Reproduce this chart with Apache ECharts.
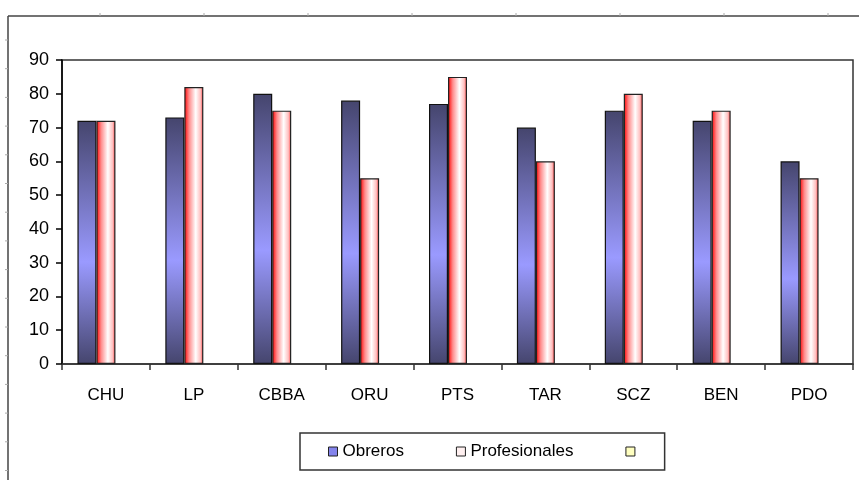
<!DOCTYPE html>
<html>
<head>
<meta charset="utf-8">
<script src="https://cdn.jsdelivr.net/npm/echarts@6/dist/echarts.min.js"></script>
<style>
  html, body { margin: 0; padding: 0; background: #fff; }
  #main { width: 859px; height: 480px; }
</style>
</head>
<body>
<div id="main"></div>
<script>
// datos del grafico
var categorias = ['CHU', 'LP', 'CBBA', 'ORU', 'PTS', 'TAR', 'SCZ', 'BEN', 'PDO'];
var obreros = [72, 73, 80, 78, 77, 70, 75, 72, 60];
var profesionales = [72, 82, 75, 55, 85, 60, 80, 75, 55];
var yMin = 0;
var yMax = 90;
var yPaso = 10;

var FONT = '"Liberation Sans", Arial, sans-serif';

var chart = echarts.init(document.getElementById('main'));

// marco exterior con marcas pequeñas
var marco = [
  { type: 'line', shape: { x1: 8, y1: 16, x2: 859, y2: 16 }, style: { stroke: '#444', lineWidth: 1.5 } },
  { type: 'line', shape: { x1: 8, y1: 16, x2: 8, y2: 480 }, style: { stroke: '#444', lineWidth: 1.5 } }
];
for (var tx = 100; tx < 859; tx += 104) {
  marco.push({ type: 'line', shape: { x1: tx, y1: 13, x2: tx, y2: 16 }, style: { stroke: '#aaa', lineWidth: 1 } });
}
for (var ty = 40; ty < 480; ty += 28.7) {
  marco.push({ type: 'line', shape: { x1: 5, y1: ty, x2: 8, y2: ty }, style: { stroke: '#aaa', lineWidth: 1 } });
}

var option = {
  animation: false,
  backgroundColor: '#fff',
  textStyle: { fontFamily: FONT },
  graphic: marco,
  grid: {
    left: 62,
    right: 6,
    top: 60,
    bottom: 116,
    show: true,
    borderColor: '#333',
    borderWidth: 1.5,
    backgroundColor: 'transparent'
  },
  legend: {
    left: 300,
    top: 433,
    padding: [10, 20, 10, 28],
    itemGap: 52,
    itemWidth: 9,
    itemHeight: 9,
    icon: 'rect',
    borderColor: '#333',
    borderWidth: 1.5,
    textStyle: { fontSize: 17, color: '#000', fontFamily: FONT },
    data: [
      { name: 'Obreros', itemStyle: { color: '#8484ec', borderColor: '#222', borderWidth: 1 } },
      { name: 'Profesionales', itemStyle: { color: '#fff0f0', borderColor: '#222', borderWidth: 1 } },
      { name: ' ', itemStyle: { color: '#ffffc0', borderColor: '#222', borderWidth: 1 } }
    ]
  },
  xAxis: {
    type: 'category',
    data: categorias,
    boundaryGap: true,
    axisLine: { lineStyle: { color: '#333', width: 1.5 } },
    axisTick: { show: true, length: 6, lineStyle: { color: '#333', width: 1.5 } },
    axisLabel: { fontSize: 17, color: '#000', margin: 23, fontFamily: FONT },
    splitLine: { show: false }
  },
  yAxis: {
    type: 'value',
    min: yMin,
    max: yMax,
    interval: yPaso,
    axisLine: { show: true, lineStyle: { color: '#000', width: 1.5 } },
    axisTick: { show: true, length: 6, lineStyle: { color: '#000', width: 1.5 } },
    axisLabel: { fontSize: 18, color: '#000', margin: 13, fontFamily: FONT },
    splitLine: { show: false }
  },
  series: [
    {
      name: 'Obreros',
      type: 'bar',
      barWidth: 19,
      barGap: '0%',
      data: obreros,
      itemStyle: {
        borderColor: '#111',
        borderWidth: 1.2,
        color: {
          type: 'linear', x: 0, y: 0, x2: 0, y2: 1,
          colorStops: [
            { offset: 0, color: '#45456d' },
            { offset: 0.58, color: '#9a9aff' },
            { offset: 1, color: '#45456d' }
          ]
        }
      }
    },
    {
      name: 'Profesionales',
      type: 'bar',
      barWidth: 19,
      barGap: '0%',
      data: profesionales,
      itemStyle: {
        borderColor: '#222',
        borderWidth: 1.2,
        color: {
          type: 'linear', x: 0, y: 0, x2: 1, y2: 0,
          colorStops: [
            { offset: 0, color: '#ff0000' },
            { offset: 0.25, color: '#ff8c8c' },
            { offset: 0.6, color: '#ffffff' },
            { offset: 0.85, color: '#ffc0c0' },
            { offset: 1, color: '#ff4040' }
          ]
        }
      }
    },
    {
      name: ' ',
      type: 'bar',
      barWidth: 19,
      barGap: '0%',
      data: [],
      itemStyle: { color: '#ffffc0', borderColor: '#222', borderWidth: 1 }
    }
  ]
};

chart.setOption(option);
</script>
</body>
</html>
